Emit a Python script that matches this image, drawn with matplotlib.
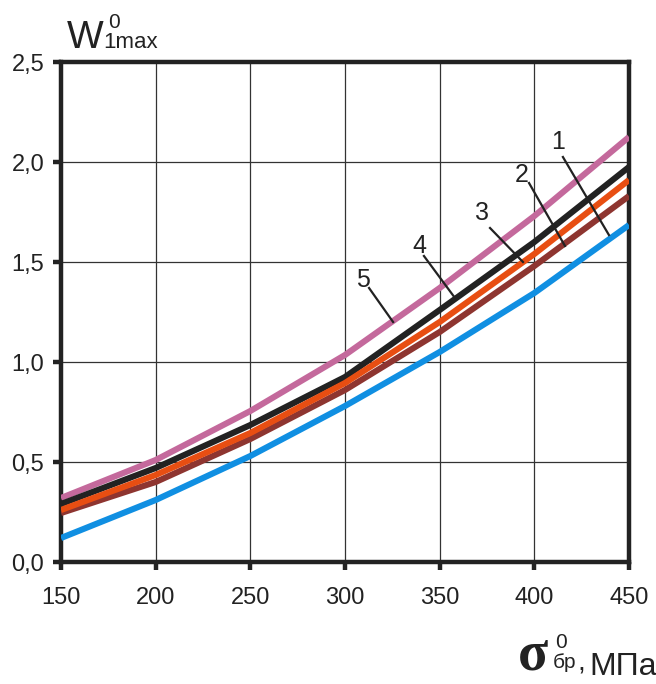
import matplotlib
matplotlib.use('Agg')
import matplotlib.pyplot as plt

# stress values, MPa
sigma = [150, 200, 250, 300, 350, 400, 450]

# W1max for curves 1..5
w_1 = [0.12, 0.31, 0.53, 0.78, 1.05, 1.345, 1.685]
w_2 = [0.245, 0.40, 0.615, 0.86, 1.15, 1.48, 1.83]
w_3 = [0.26, 0.435, 0.645, 0.895, 1.20, 1.54, 1.91]
w_4 = [0.29, 0.47, 0.685, 0.925, 1.26, 1.60, 1.975]
w_5 = [0.32, 0.51, 0.755, 1.035, 1.37, 1.73, 2.125]

x_ticks = [150, 200, 250, 300, 350, 400, 450]
y_ticks = [0.0, 0.5, 1.0, 1.5, 2.0, 2.5]
y_tick_labels = ['0,0', '0,5', '1,0', '1,5', '2,0', '2,5']

sans = ['Liberation Sans', 'DejaVu Sans']
serif = ['Liberation Serif', 'DejaVu Serif']

fig = plt.figure(figsize=(6.56, 6.84), dpi=100)
ax = fig.add_axes([61 / 656, 122 / 684, 568 / 656, 500 / 684])

dark = '#222222'
ax.plot(sigma, w_5, color='#C4699C', lw=4.4, solid_capstyle='butt', zorder=3)
ax.plot(sigma, w_4, color='#222222', lw=4.4, solid_capstyle='butt', zorder=3)
ax.plot(sigma, w_2, color='#8E3530', lw=4.4, solid_capstyle='butt', zorder=3)
ax.plot(sigma, w_3, color='#E84E12', lw=4.4, solid_capstyle='butt', zorder=4)
ax.plot(sigma, w_1, color='#108FE2', lw=4.4, solid_capstyle='butt', zorder=3)

ax.set_xlim(150, 450)
ax.set_ylim(0, 2.5)
ax.set_xticks(x_ticks)
ax.set_yticks(y_ticks)
ax.set_yticklabels(y_tick_labels)
ax.grid(True, color='#333333', lw=0.9)
ax.set_axisbelow(True)

for s in ax.spines.values():
    s.set_linewidth(3.2)
    s.set_color(dark)
ax.tick_params(axis='both', direction='out', length=6, width=3.2, color=dark,
               labelsize=17, labelcolor=dark)
ax.tick_params(axis='x', pad=12)
ax.tick_params(axis='y', pad=6)
for lab in ax.get_xticklabels() + ax.get_yticklabels():
    lab.set_family(sans)

# curve numbers with leader lines
labels = ['1', '2', '3', '4', '5']
label_xy = [(412.5, 2.10), (393.5, 1.935), (372.4, 1.745), (339.1, 1.58), (309.5, 1.41)]
lead_start = [(415.1, 2.025), (397.2, 1.895), (376.6, 1.67), (341.7, 1.53), (312.7, 1.37)]
lead_end = [(439.4, 1.635), (416.2, 1.58), (394.0, 1.50), (358.1, 1.32), (325.4, 1.20)]
for t, txy, a, b in zip(labels, label_xy, lead_start, lead_end):
    ax.text(txy[0], txy[1], t, fontsize=18, family=sans, color=dark,
            ha='center', va='center', zorder=6)
    ax.plot([a[0], b[0]], [a[1], b[1]], color=dark, lw=1.6, zorder=6)

# y axis label: W with sub/superscripts
fig.text(67 / 656, 1 - 48 / 684, 'W', fontsize=28, family=sans, color=dark,
         ha='left', va='baseline')
fig.text(108 / 656, 1 - 28 / 684, '0', fontsize=15, family=sans, color=dark,
         ha='left', va='baseline')
fig.text(103 / 656, 1 - 48 / 684, '1max', fontsize=16, family=sans, color=dark,
         ha='left', va='baseline')

# x axis label: sigma with sub/superscripts, MPa
fig.text(518 / 656, 1 - 670 / 684, 'σ', fontsize=40, family=serif, weight='bold',
         color=dark, ha='left', va='baseline')
fig.text(555 / 656, 1 - 648 / 684, '0', fontsize=15, family=sans, color=dark,
         ha='left', va='baseline')
fig.text(553 / 656, 1 - 668 / 684, 'бр', fontsize=15, family=sans, color=dark,
         ha='left', va='baseline')
fig.text(577 / 656, 1 - 670 / 684, ',', fontsize=20, family=sans, color=dark,
         ha='left', va='baseline')
fig.text(589 / 656, 1 - 675 / 684, 'МПа', fontsize=23, family=sans, color=dark,
         ha='left', va='baseline')

fig.savefig('out.png', dpi=100)
